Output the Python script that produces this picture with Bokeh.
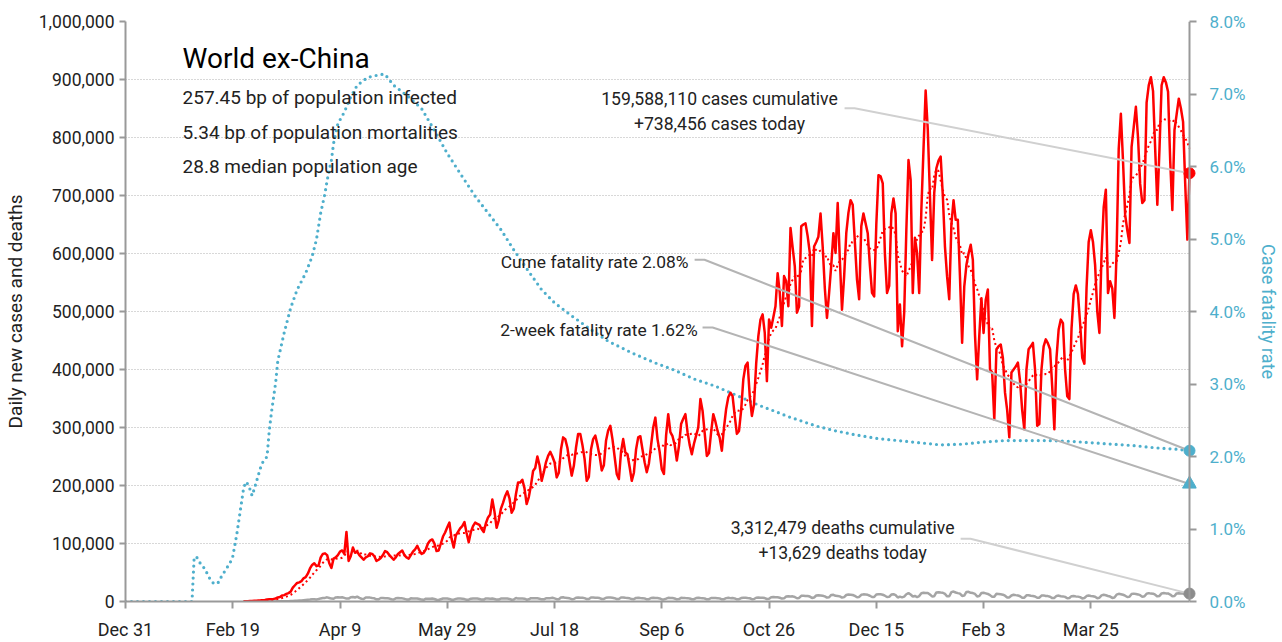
import numpy as np
import pandas as pd
from bokeh.plotting import figure
from bokeh.models import (Range1d, LinearAxis, FixedTicker, SingleIntervalTicker,
                          NumeralTickFormatter, Label, Span)
from bokeh.embed import file_html
from bokeh.resources import INLINE

# ---------------- data ----------------
base_date = "2019-12-31"
series_start = "2020-02-24"

# daily new cases, thousands, rows = weeks Mon..Sun starting 2020-02-24, last value = 2021-05-10
cases_k = [
    0.3, 0.4, 0.5, 0.7, 0.9, 1.2, 1.3,
    1.8, 2.0, 2.3, 2.5, 3.4, 3.7, 3.9,
    4.5, 5.2, 7.0, 7.6, 10.5, 11.0, 13.0,
    14.5, 17.0, 24.0, 28.0, 32.0, 33.0, 35.0,
    40.0, 42.0, 48.0, 57.0, 63.0, 66.0, 61.0,
    62.0, 76.0, 82.0, 83.0, 80.0, 66.0, 58.0,
    74.0, 76.0, 80.0, 86.0, 88.0, 82.0, 120.0,
    70.0, 78.0, 93.0, 84.0, 86.0, 80.0, 76.0,
    72.0, 76.0, 78.0, 83.0, 82.0, 78.0, 70.0,
    72.0, 75.0, 80.0, 87.0, 85.0, 80.0, 76.0,
    72.0, 76.0, 82.0, 85.0, 88.0, 80.0, 76.0,
    74.0, 80.0, 86.0, 90.0, 96.0, 88.0, 82.0,
    84.0, 90.0, 100.0, 105.0, 107.0, 100.0, 87.0,
    88.0, 100.0, 112.0, 119.0, 128.0, 136.0, 108.0,
    93.0, 114.0, 120.0, 126.0, 130.0, 137.0, 118.0,
    102.0, 120.0, 130.0, 136.0, 134.0, 132.0, 125.0,
    120.0, 135.0, 145.0, 150.0, 176.0, 155.0, 127.0,
    140.0, 160.0, 170.0, 182.0, 190.0, 178.0, 153.0,
    160.0, 185.0, 205.0, 205.0, 210.0, 195.0, 168.0,
    180.0, 200.0, 225.0, 230.0, 250.0, 235.0, 208.0,
    223.0, 240.0, 251.0, 258.0, 250.0, 240.0, 214.0,
    222.0, 262.0, 283.0, 280.0, 265.0, 240.0, 217.0,
    234.0, 265.0, 289.0, 289.0, 270.0, 246.0, 208.0,
    215.0, 262.0, 280.0, 286.0, 270.0, 251.0, 226.0,
    235.0, 277.0, 295.0, 303.0, 280.0, 250.0, 220.0,
    211.0, 258.0, 280.0, 257.0, 254.0, 232.0, 208.0,
    222.0, 262.0, 283.0, 285.0, 262.0, 240.0, 223.0,
    238.0, 269.0, 300.0, 317.0, 280.0, 258.0, 228.0,
    220.0, 286.0, 323.0, 292.0, 285.0, 270.0, 243.0,
    268.0, 306.0, 315.0, 323.0, 292.0, 270.0, 254.0,
    272.0, 286.0, 300.0, 349.0, 329.0, 290.0, 251.0,
    256.0, 292.0, 323.0, 310.0, 294.0, 282.0, 260.0,
    300.0, 332.0, 352.0, 360.0, 354.0, 320.0, 289.0,
    294.0, 330.0, 383.0, 406.0, 412.0, 354.0, 320.0,
    340.0, 410.0, 457.0, 486.0, 495.0, 463.0, 380.0,
    486.0, 472.0, 490.0, 509.0, 566.0, 532.0, 475.0,
    561.0, 552.0, 509.0, 644.0, 610.0, 578.0, 498.0,
    509.0, 647.0, 650.0, 652.0, 630.0, 601.0, 475.0,
    612.0, 620.0, 629.0, 669.0, 612.0, 540.0, 489.0,
    532.0, 580.0, 635.0, 601.0, 687.0, 589.0, 503.0,
    560.0, 635.0, 670.0, 692.0, 684.0, 620.0, 555.0,
    521.0, 647.0, 669.0, 652.0, 635.0, 580.0, 532.0,
    526.0, 650.0, 735.0, 733.0, 721.0, 600.0, 532.0,
    544.0, 669.0, 695.0, 669.0, 466.0, 512.0, 440.0,
    498.0, 640.0, 761.0, 727.0, 532.0, 627.0, 601.0,
    532.0, 675.0, 780.0, 881.0, 813.0, 700.0, 589.0,
    704.0, 747.0, 760.0, 767.0, 700.0, 612.0, 560.0,
    521.0, 650.0, 692.0, 658.0, 658.0, 560.0, 446.0,
    543.0, 580.0, 600.0, 615.0, 589.0, 460.0, 383.0,
    458.0, 523.0, 463.0, 520.0, 538.0, 400.0, 395.0,
    314.0, 435.0, 440.0, 443.0, 420.0, 360.0, 330.0,
    283.0, 395.0, 400.0, 405.0, 412.0, 380.0, 330.0,
    297.0, 400.0, 435.0, 440.0, 446.0, 400.0, 303.0,
    306.0, 400.0, 440.0, 452.0, 445.0, 435.0, 370.0,
    297.0, 420.0, 469.0, 486.0, 480.0, 400.0, 354.0,
    349.0, 470.0, 530.0, 545.0, 530.0, 480.0, 420.0,
    410.0, 540.0, 620.0, 640.0, 620.0, 580.0, 500.0,
    463.0, 600.0, 680.0, 710.0, 532.0, 552.0, 540.0,
    489.0, 601.0, 780.0, 841.0, 760.0, 667.0, 640.0,
    618.0, 784.0, 818.0, 853.0, 800.0, 720.0, 687.0,
    692.0, 860.0, 890.0, 904.0, 880.0, 780.0, 684.0,
    780.0, 890.0, 904.0, 895.0, 879.0, 760.0, 675.0,
    813.0, 840.0, 867.0, 850.0, 827.0, 720.0, 624.0,
    738.456,
]

# daily new deaths, thousands, same dates
deaths_k = [
    0.01, 0.01, 0.02, 0.02, 0.03, 0.03, 0.04,
    0.05, 0.05, 0.05, 0.06, 0.08, 0.10, 0.10,
    0.15, 0.20, 0.25, 0.30, 0.35, 0.40, 0.50,
    0.6, 0.8, 1.0, 1.2, 1.4, 1.7, 1.8,
    2.2, 2.6, 3.0, 3.3, 3.8, 3.9, 3.6,
    4.2, 5.3, 5.9, 6.2, 7.2, 6.1, 5.0,
    4.8, 7.0, 7.3, 7.0, 7.3, 6.2, 5.0,
    5.0, 7.3, 7.7, 6.9, 8.4, 6.2, 4.8,
    4.3, 6.9, 6.9, 6.7, 6.0, 5.6, 3.8,
    3.8, 6.0, 6.1, 5.6, 5.6, 5.0, 3.8,
    3.4, 5.5, 6.2, 5.5, 5.4, 4.6, 3.6,
    3.4, 5.4, 5.1, 5.0, 5.3, 4.4, 3.3,
    3.0, 4.8, 4.7, 4.8, 5.0, 4.3, 3.0,
    2.6, 4.0, 5.1, 5.0, 5.0, 4.4, 3.0,
    3.2, 4.5, 5.3, 5.1, 4.9, 4.2, 3.0,
    3.2, 4.8, 5.3, 5.0, 5.1, 4.4, 3.3,
    3.3, 5.3, 5.1, 4.9, 5.2, 4.4, 3.3,
    3.3, 5.0, 5.2, 5.2, 5.0, 4.5, 3.0,
    3.5, 6.2, 5.0, 5.3, 5.1, 4.8, 3.2,
    3.8, 5.7, 5.6, 5.5, 5.5, 4.8, 3.7,
    3.7, 5.5, 5.6, 5.8, 6.5, 5.3, 4.0,
    3.8, 6.8, 7.3, 6.3, 6.2, 5.5, 4.0,
    4.3, 6.5, 6.9, 6.4, 6.6, 5.8, 4.2,
    4.2, 6.8, 7.0, 6.6, 6.3, 5.9, 4.3,
    4.5, 6.5, 6.8, 6.9, 6.4, 5.7, 4.2,
    4.4, 6.8, 7.0, 6.3, 6.0, 5.5, 4.1,
    4.0, 6.2, 6.4, 6.0, 5.8, 5.3, 3.8,
    4.0, 6.0, 6.5, 5.9, 5.9, 5.3, 3.6,
    3.6, 4.8, 6.4, 6.0, 6.0, 5.2, 3.7,
    4.1, 6.3, 6.1, 5.9, 5.8, 5.2, 3.9,
    4.0, 5.9, 6.3, 5.9, 5.8, 5.2, 3.7,
    4.0, 6.0, 6.1, 6.1, 5.8, 5.3, 3.8,
    4.0, 5.8, 6.3, 5.8, 5.9, 5.3, 3.8,
    4.0, 5.9, 6.6, 6.5, 6.0, 5.6, 4.0,
    4.3, 6.5, 6.8, 6.6, 6.6, 5.9, 4.3,
    4.6, 7.3, 7.6, 7.3, 7.3, 6.4, 5.0,
    5.4, 8.5, 9.0, 8.6, 8.9, 7.7, 5.6,
    6.2, 9.8, 10.0, 9.5, 9.5, 8.5, 6.2,
    6.9, 10.3, 10.8, 10.3, 9.8, 8.8, 6.7,
    7.3, 11.3, 11.5, 9.8, 9.5, 8.8, 6.7,
    7.6, 11.2, 12.2, 11.8, 11.2, 9.6, 7.4,
    7.8, 11.5, 12.3, 12.0, 11.5, 9.9, 7.8,
    7.7, 12.0, 12.6, 12.4, 11.6, 10.0, 7.8,
    8.0, 11.9, 12.6, 11.0, 6.9, 8.5, 7.2,
    8.4, 12.5, 14.5, 12.0, 8.6, 9.5, 7.7,
    9.3, 14.2, 15.2, 14.6, 14.8, 12.0, 8.8,
    9.1, 15.7, 16.0, 15.4, 15.1, 13.0, 9.0,
    9.1, 16.2, 17.2, 15.5, 14.4, 13.6, 9.6,
    10.2, 16.5, 16.8, 15.0, 14.5, 13.0, 8.8,
    9.3, 14.5, 15.0, 14.0, 13.0, 11.0, 8.0,
    8.3, 13.3, 13.0, 12.4, 11.8, 10.0, 7.0,
    7.0, 10.4, 11.6, 11.0, 10.5, 9.0, 6.4,
    6.6, 10.6, 10.8, 10.0, 9.4, 8.6, 6.4,
    6.6, 10.3, 10.5, 9.5, 9.3, 8.2, 5.9,
    6.2, 9.6, 10.2, 9.0, 8.8, 8.0, 5.6,
    6.1, 9.2, 9.5, 8.8, 8.4, 7.5, 5.3,
    6.0, 9.4, 10.2, 9.5, 9.1, 8.3, 5.7,
    6.5, 10.6, 11.5, 10.8, 9.5, 8.5, 6.2,
    7.0, 11.8, 13.2, 12.5, 11.6, 10.0, 7.8,
    8.1, 12.8, 13.6, 13.0, 12.2, 10.9, 8.0,
    9.0, 13.5, 14.4, 13.6, 13.4, 11.7, 8.8,
    9.6, 13.9, 14.6, 14.0, 13.8, 12.0, 9.0,
    9.5, 14.0, 14.3, 13.8, 13.7, 12.0, 8.9,
    13.629,
]

# cumulative case fatality rate (%), days since 2019-12-31
cfr_day = [0, 31, 32, 33, 35, 37, 39, 41, 43, 45, 47, 49, 50, 51, 52, 53, 54, 55,
           56, 57, 58, 59, 60, 61, 62, 63, 64, 65, 66, 67, 68, 70, 71, 74, 77, 80,
           84, 87, 89, 91, 93, 94, 96, 97, 99, 102, 105, 108, 113, 119, 121, 125,
           132, 138, 144, 150, 157, 163, 169, 175, 181, 188, 194, 200, 208, 217,
           225, 236, 247, 256, 265, 275, 282, 289, 295, 303, 309, 315, 322, 330,
           340, 350, 360, 370, 380, 390, 400, 410, 420, 430, 440, 450, 460, 470,
           480, 490, 496]
cfr_pct = [0.0, 0.0, 0.60, 0.62, 0.52, 0.45, 0.33, 0.25, 0.25, 0.36, 0.45, 0.55,
           0.62, 0.78, 0.95, 1.15, 1.35, 1.55, 1.65, 1.62, 1.55, 1.46, 1.55, 1.65,
           1.75, 1.85, 1.92, 1.96, 2.00, 2.35, 2.60, 3.02, 3.32, 3.71, 4.05, 4.30,
           4.53, 4.76, 4.99, 5.36, 5.63, 5.81, 6.09, 6.32, 6.59, 6.75, 6.96, 7.12,
           7.23, 7.27, 7.27, 7.12, 6.96, 6.80, 6.50, 6.18, 5.86, 5.59, 5.36, 5.13,
           4.85, 4.55, 4.30, 4.12, 3.94, 3.75, 3.59, 3.43, 3.29, 3.19, 3.07, 2.97,
           2.88, 2.79, 2.71, 2.62, 2.55, 2.49, 2.42, 2.36, 2.30, 2.25, 2.22, 2.19,
           2.16, 2.17, 2.20, 2.22, 2.22, 2.22, 2.21, 2.19, 2.17, 2.15, 2.12, 2.10,
           2.08]

x_tick_dates = ["2019-12-31", "2020-02-19", "2020-04-09", "2020-05-29", "2020-07-18",
                "2020-09-06", "2020-10-26", "2020-12-15", "2021-02-03", "2021-03-25"]
x_tick_labels = ["Dec 31", "Feb 19", "Apr 9", "May 29", "Jul 18",
                 "Sep 6", "Oct 26", "Dec 15", "Feb 3", "Mar 25"]

title_text = "World ex-China"
info_lines = ["257.45 bp of population infected",
              "5.34 bp of population mortalities",
              "28.8 median population age"]
cum_cases = 159588110
cases_today = 738456
cum_deaths = 3312479
deaths_today = 13629
cume_cfr = 2.08
two_week_cfr = 1.62

# ---------------- styling ----------------
FONT = "Roboto"
RED = "#ff0000"
BLUE = "#4eafcc"
GREY = "#a5a5a5"
AXIS = "#999999"
TXT = "#222222"
RIGHT_PAD_DAYS = 3.26   # frame extends a few px past the last day so end markers are not clipped

base = pd.Timestamp(base_date)
dates = pd.date_range(series_start, periods=len(cases_k), freq="D")
xd = np.asarray((dates - base).days, dtype=float)
cases = np.array(cases_k) * 1000.0
deaths = np.array(deaths_k) * 1000.0
avg7 = pd.Series(cases).rolling(7).mean().to_numpy()
cfr_x = np.array(cfr_day, dtype=float)
cfr_y = np.array(cfr_pct) / 100.0
x_ticks = [float((pd.Timestamp(d) - base).days) for d in x_tick_dates]
last_x = float(xd[-1])

p = figure(width=1282, height=642, output_backend="svg", toolbar_location=None,
           x_range=Range1d(0, last_x + RIGHT_PAD_DAYS), y_range=Range1d(0, 1_000_000),
           min_border_left=124, min_border_right=86, min_border_top=21,
           min_border_bottom=39, outline_line_color=None)
p.extra_y_ranges = {"cfr": Range1d(0, 0.08)}

p.xgrid.visible = False
p.ygrid.grid_line_color = "#b0b0b0"
p.ygrid.grid_line_dash = "1 2"
p.ygrid.grid_line_width = 1
p.ygrid.cross_bounds = (0, last_x)

def style_axis(ax, label_color, size):
    ax.axis_line_color = AXIS
    ax.axis_line_width = 2
    ax.major_tick_line_color = AXIS
    ax.major_tick_line_width = 2
    ax.major_tick_in = 0
    ax.major_tick_out = 6
    ax.minor_tick_line_color = None
    ax.major_label_text_font = FONT
    ax.major_label_text_font_size = size
    ax.major_label_text_color = label_color
    ax.axis_label_text_font = FONT
    ax.axis_label_text_font_style = "normal"
    ax.axis_label_text_color = label_color

xa = p.xaxis[0]
style_axis(xa, TXT, "18px")
xa.ticker = FixedTicker(ticks=x_ticks)
xa.major_label_overrides = {t: l for t, l in zip(x_ticks, x_tick_labels)}
xa.major_tick_out = 7
xa.major_label_standoff = 10
xa.bounds = (0, last_x)

ya = p.yaxis[0]
style_axis(ya, TXT, "17.5px")
ya.ticker = SingleIntervalTicker(interval=100000, num_minor_ticks=0)
ya.formatter = NumeralTickFormatter(format="0,0")
ya.axis_label = "Daily new cases and deaths"
ya.axis_label_text_font_size = "19px"
ya.axis_label_standoff = 9
ya.major_label_standoff = 5

ra = LinearAxis(y_range_name="cfr",
                ticker=SingleIntervalTicker(interval=0.01, num_minor_ticks=0),
                formatter=NumeralTickFormatter(format="0.0%"),
                axis_label="Case fatality rate")
style_axis(ra, BLUE, "17px")
ra.axis_line_color = None
ra.major_tick_in = 7
ra.major_tick_out = 0
ra.axis_label_text_font_size = "18px"
ra.major_label_standoff = 13
ra.axis_label_standoff = 9
p.add_layout(ra, "right")
# right axis line drawn at the last data day
p.add_layout(Span(location=last_x, dimension="height", line_color=AXIS, line_width=2))

# series
p.line(cfr_x, cfr_y, y_range_name="cfr", line_color=BLUE, line_width=3.2,
       line_dash="0 6", line_cap="round")
p.line(xd, deaths, line_color=GREY, line_width=2.5)
p.line(xd, cases, line_color=RED, line_width=2.5, line_join="round")
p.line(xd, avg7, line_color=RED, line_width=2, line_dash="2 3")

# leader lines (label anchor -> last data point)
last_case = float(cases[-1])
last_death = float(deaths[-1])
cfr_to_left = 1_000_000 / 0.08
p.line([335.2, 339.9, last_x], [850500, 850500, last_case], line_color="#d0d0d0", line_width=2)
p.line([265.3, 269.9, last_x], [589300, 589300, cume_cfr / 100 * cfr_to_left],
       line_color="#b4b4b4", line_width=2)
p.line([269.0, 273.7, last_x], [472500, 472500, two_week_cfr / 100 * cfr_to_left],
       line_color="#b4b4b4", line_width=2)
p.line([389.3, 393.9, last_x], [108200, 108200, last_death], line_color="#d0d0d0", line_width=2)

# end markers
p.scatter([last_x], [last_case], size=11, color=RED)
p.scatter([last_x], [cfr_y[-1]], y_range_name="cfr", size=11, color=BLUE)
p.scatter([last_x], [two_week_cfr / 100], y_range_name="cfr", marker="triangle",
          size=14, color=BLUE)
p.scatter([last_x], [last_death], size=11, color="#8c8c8c")

def add_text(x, y, text, size, align="left", color=TXT):
    p.add_layout(Label(x=x, y=y, text=text, text_font=FONT, text_font_size=size,
                       text_color=color, text_align=align, text_baseline="alphabetic"))

add_text(26.6, 935800, title_text, "28px", color="#000000")
for yv, line in zip([868500, 808400, 750000], info_lines):
    add_text(26.6, yv, line, "19px")
add_text(276.9, 866800, f"{cum_cases:,} cases cumulative", "17.6px", "center")
add_text(276.9, 823900, f"+{cases_today:,} cases today", "17.6px", "center")
add_text(262.5, 585900, f"Cume fatality rate {cume_cfr:.2f}%", "17.4px", "right")
add_text(266.7, 467300, f"2-week fatality rate {two_week_cfr:.2f}%", "17.4px", "right")
add_text(334.3, 127100, f"{cum_deaths:,} deaths cumulative", "17.6px", "center")
add_text(334.3, 84200, f"+{deaths_today:,} deaths today", "17.6px", "center")

open("out.html", "w").write(file_html(p, INLINE))
